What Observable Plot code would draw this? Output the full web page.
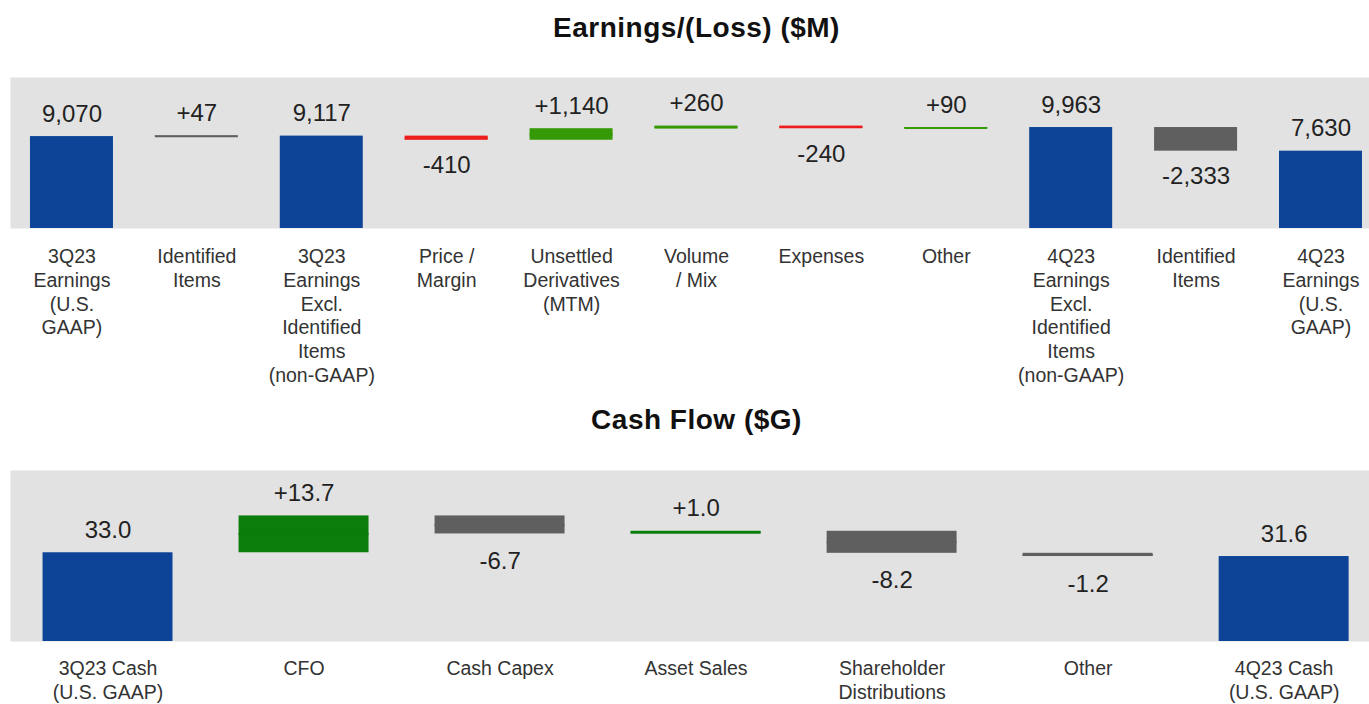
<!DOCTYPE html>
<html><head><meta charset="utf-8">
<script src="https://cdn.jsdelivr.net/npm/d3@7"></script>
<script src="https://cdn.jsdelivr.net/npm/@observablehq/plot@0.6"></script>
<style>
html,body{margin:0;padding:0;background:#fff;overflow:hidden;}
body{width:1369px;height:704px;font-family:"Liberation Sans",Arial,sans-serif;}
.title{text-align:center;font-weight:bold;font-size:28px;letter-spacing:0.5px;color:#111;padding-left:24px;box-sizing:border-box;}
#t1{height:56px;line-height:56px;}
#t2{height:52px;line-height:52px;}
svg{display:block}
</style></head><body>
<div id="t1" class="title">Earnings/(Loss) ($M)</div>
<div id="c1"></div>
<div id="t2" class="title">Cash Flow ($G)</div>
<div id="c2"></div>
<script>
// ---- Earnings data ($M) ----
const earnLabels = [
  "3Q23\nEarnings\n(U.S.\nGAAP)",
  "Identified\nItems",
  "3Q23\nEarnings\nExcl.\nIdentified\nItems\n(non-GAAP)",
  "Price /\nMargin",
  "Unsettled\nDerivatives\n(MTM)",
  "Volume\n/ Mix",
  "Expenses",
  "Other",
  "4Q23\nEarnings\nExcl.\nIdentified\nItems\n(non-GAAP)",
  "Identified\nItems",
  "4Q23\nEarnings\n(U.S.\nGAAP)"
];
const earnValues = [9070, 47, 9117, -410, 1140, 260, -240, 90, 9963, -2333, 7630];
const earnKinds = ["total", "identified", "total", "change", "change", "change", "change", "change", "total", "identified", "total"];

// ---- Cash flow data ($G) ----
const cashLabels = [
  "3Q23 Cash\n(U.S. GAAP)",
  "CFO",
  "Cash Capex",
  "Asset Sales",
  "Shareholder\nDistributions",
  "Other",
  "4Q23 Cash\n(U.S. GAAP)"
];
const cashValues = [33.0, 13.7, -6.7, 1.0, -8.2, -1.2, 31.6];
const cashKinds = ["total", "change", "change", "change", "change", "change", "total"];

function waterfall(labels, values, kinds) {
  let run = 0;
  return values.map((v, i) => {
    let y1, y2;
    if (kinds[i] === "total") { y1 = 0; y2 = v; } else { y1 = run; y2 = run + v; }
    run = y2;
    return {i, label: labels[i], value: v, kind: kinds[i], y1, y2,
      top: Math.max(y1, y2), bottom: Math.min(y1, y2), mid: (y1 + y2) / 2};
  });
}

const BLUE = "#0e4498", GRAY = "#5f5f5f";
const earnColor = d => d.kind === "total" ? BLUE : d.kind === "identified" ? GRAY : d.value >= 0 ? "#369a06" : "#ee1d1d";
const cashColor = d => d.kind === "total" ? BLUE : d.value >= 0 ? "#0a7d0a" : GRAY;

const fmtEarn = d => d.kind === "total" ? d3.format(",")(d.value) : (d.value < 0 ? "-" : "+") + d3.format(",")(Math.abs(d.value));
const fmtCash = d => d.kind === "total" ? d3.format(".1f")(d.value) : (d.value < 0 ? "-" : "+") + d3.format(".1f")(Math.abs(d.value));

const FONT = '"Liberation Sans", Arial, sans-serif';

function chart({data, labels, color, fmt, height, marginTop, marginBottom, yMax, paddingInner, paddingOuter, align, tickPadding, dyNeg}) {
  const up = data.filter(d => d.kind === "total" || d.value >= 0);
  const down = data.filter(d => d.kind !== "total" && d.value < 0);
  return Plot.plot({
    width: 1369, height, marginTop, marginBottom, marginLeft: 10, marginRight: 0,
    style: {fontFamily: FONT, fontSize: "19.5px", background: "white", color: "#333"},
    x: {type: "band", domain: d3.range(labels.length), paddingInner, paddingOuter, align, round: false},
    y: {domain: [0, yMax], axis: null},
    marks: [
      Plot.frame({fill: "#e2e2e2", stroke: "none"}),
      Plot.barY(data, {x: "i", y1: "y1", y2: "y2", fill: color}),
      Plot.tickY(data.filter(d => d.kind !== "total"), {x: "i", y: "mid", stroke: color, strokeWidth: 2}),
      Plot.text(up, {x: "i", y: "top", text: fmt, lineAnchor: "bottom", dy: -15, fontSize: 24, fill: "#222"}),
      Plot.text(down, {x: "i", y: "bottom", text: fmt, lineAnchor: "top", dy: dyNeg, fontSize: 24, fill: "#222"}),
      Plot.axisX({tickSize: 0, tickPadding, tickFormat: i => labels[i], fontSize: 19.5, lineHeight: 1.215, label: null, color: "#333"})
    ]
  });
}

document.getElementById("c1").append(chart({
  data: waterfall(earnLabels, earnValues, earnKinds), labels: earnLabels, color: earnColor, fmt: fmtEarn,
  height: 338, marginTop: 21, marginBottom: 166, yMax: 14900,
  paddingInner: 0.3355, paddingOuter: 0.108, align: 0.74, tickPadding: 18, dyNeg: 16
}));

document.getElementById("c2").append(chart({
  data: waterfall(cashLabels, cashValues, cashKinds), labels: cashLabels, color: cashColor, fmt: fmtCash,
  height: 258, marginTop: 24, marginBottom: 63, yMax: 63.6,
  paddingInner: 0.337, paddingOuter: 0.135, align: 0.615, tickPadding: 17, dyNeg: 18
}));
</script>
</body></html>
